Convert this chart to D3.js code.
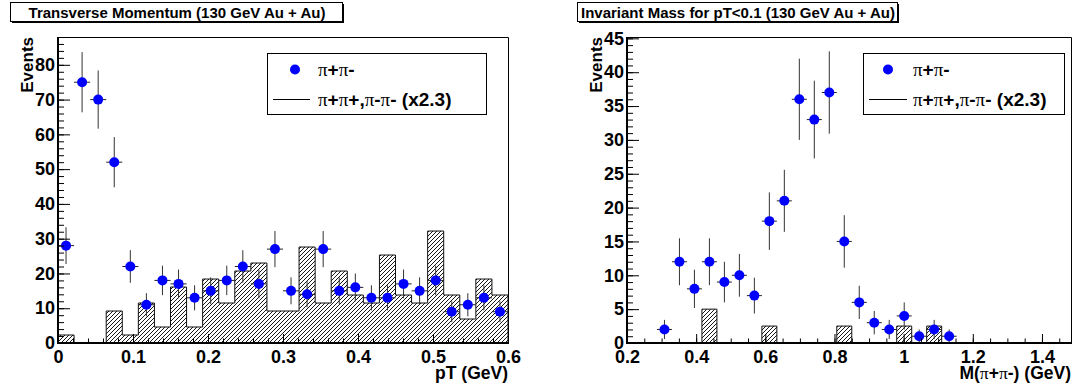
<!DOCTYPE html>
<html>
<head>
<meta charset="utf-8">
<script src="https://cdn.jsdelivr.net/npm/d3@7"></script>
<style>
  body { margin: 0; background: #fff; }
  svg { display: block; font-family: "Liberation Sans", Arial, sans-serif; }
</style>
</head>
<body>
<div id="chart"></div>
<script>
// ---- transverse momentum: 28 bins from 0 to 0.6 GeV
const ptStart = 0;
const ptBinWidth = 0.6 / 28;
const ptPairs = [28, 75, 70, 52, 22, 11, 18, 17, 13, 15, 18, 22, 17, 27,
                 15, 14, 27, 15, 16, 13, 13, 17, 15, 18, 9, 11, 13, 9];
const ptLikeSign = [2.3, 0, 0, 9.2, 2.3, 11.5, 4.6, 16.1, 4.6, 18.4, 11.5, 20.7, 23, 9.2,
                    9.2, 27.6, 11.5, 20.7, 13.8, 11.5, 25.3, 13.8, 11.5, 32.2, 13.8, 6.9, 18.4, 13.8];
const ptTicks = [0, 0.1, 0.2, 0.3, 0.4, 0.5, 0.6];
const ptTickLabels = ["0", "0.1", "0.2", "0.3", "0.4", "0.5", "0.6"];
const ptEventTicks = [0, 10, 20, 30, 40, 50, 60, 70, 80];

// ---- invariant mass: bins of 1.3/30 GeV starting at 0.2 GeV
const massStart = 0.2;
const massBinWidth = 1.3 / 30;
const massPairs = [0, 0, 2, 12, 8, 12, 9, 10, 7, 18, 21, 36, 33, 37, 15,
                   6, 3, 2, 4, 1, 2, 1, 0, 0, 0, 0, 0, 0, 0, 0];
const massLikeSign = [0, 0, 0, 0, 0, 5, 0, 0, 0, 2.5, 0, 0, 0, 0, 2.5,
                      0, 0, 0, 2.5, 0, 2.5, 0, 0, 0, 0, 0, 0, 0, 0, 0];
const massTicks = [0.2, 0.4, 0.6, 0.8, 1, 1.2, 1.4];
const massTickLabels = ["0.2", "0.4", "0.6", "0.8", "1", "1.2", "1.4"];
const massEventTicks = [0, 5, 10, 15, 20, 25, 30, 35, 40, 45];

const legendPairs = "π+π-";
const legendLike = "π+π+,π-π- (x2.3)";

const width = 1076, height = 387;

const svg = d3.select("#chart")
  .append("svg")
  .attr("width", width)
  .attr("height", height);

const defs = svg.append("defs");
defs.append("pattern")
  .attr("id", "hatch")
  .attr("patternUnits", "userSpaceOnUse")
  .attr("width", 4)
  .attr("height", 4)
  .append("path")
  .attr("d", "M-1,1 L1,-1 M0,4 L4,0 M3,5 L5,3")
  .attr("stroke", "#000")
  .attr("stroke-width", 0.9);

// text with pi drawn in a serif face, the rest bold sans
function richText(sel, str) {
  str.split("").forEach(ch => {
    const t = sel.append("tspan").text(ch);
    if (ch == "π") t.attr("font-family", "'Liberation Serif', serif").attr("font-weight", "normal");
  });
}

function drawPanel(p) {
  const x = d3.scaleLinear().domain(p.xDomain).range([p.left, p.right]);
  const y = d3.scaleLinear().domain(p.yDomain).range([p.bottom, p.top]);

  const g = svg.append("g");
  const clipId = "clip" + p.id;
  defs.append("clipPath").attr("id", clipId)
    .append("rect")
    .attr("x", p.left).attr("y", p.top)
    .attr("width", p.right - p.left).attr("height", p.bottom - p.top);

  // like-sign histogram: hatched step shape
  const pts = [[p.start, 0]];
  p.like.forEach((v, i) => {
    const lo = p.start + i * p.binW;
    pts.push([lo, v], [lo + p.binW, v]);
  });
  pts.push([p.start + p.like.length * p.binW, 0]);
  const line = d3.line().x(d => x(d[0])).y(d => y(d[1]));

  const hist = g.append("g").attr("clip-path", `url(#${clipId})`);
  hist.append("path")
    .attr("d", line(pts) + "Z")
    .attr("fill", "url(#hatch)")
    .attr("stroke", "none");
  hist.append("path")
    .attr("d", line(pts))
    .attr("fill", "none")
    .attr("stroke", "#111")
    .attr("stroke-width", 1);

  // unlike-sign pairs: points with sqrt(N) errors
  const data = p.pairs.map((n, i) => ({ c: p.start + (i + 0.5) * p.binW, n: n }))
    .filter(d => d.n > 0);
  const pg = g.append("g");
  pg.selectAll("line.ev")
    .data(data)
    .join("line")
    .attr("class", "ev")
    .attr("x1", d => x(d.c)).attr("x2", d => x(d.c))
    .attr("y1", d => y(d.n - Math.sqrt(d.n)))
    .attr("y2", d => y(d.n + Math.sqrt(d.n)))
    .attr("stroke", "#333");
  pg.selectAll("line.eh")
    .data(data)
    .join("line")
    .attr("class", "eh")
    .attr("x1", d => x(d.c - p.binW / 2)).attr("x2", d => x(d.c + p.binW / 2))
    .attr("y1", d => y(d.n)).attr("y2", d => y(d.n))
    .attr("stroke", "#222");
  pg.selectAll("circle")
    .data(data)
    .join("circle")
    .attr("cx", d => x(d.c))
    .attr("cy", d => y(d.n))
    .attr("r", 5)
    .attr("fill", "#0000ff");

  // axes (ticks drawn inside the frame)
  const xMajor = svg.append("g").attr("transform", `translate(0,${p.bottom})`)
    .call(d3.axisBottom(x).tickValues(p.xTicks).tickFormat((d, i) => p.xLabels[i])
      .tickSize(-9).tickPadding(7));
  const xMinor = svg.append("g").attr("transform", `translate(0,${p.bottom})`)
    .call(d3.axisBottom(x).tickValues(p.xMinor).tickFormat("").tickSize(-4.5));
  const yMajor = svg.append("g").attr("transform", `translate(${p.left},0)`)
    .call(d3.axisLeft(y).tickValues(p.yTicks).tickSize(-12).tickPadding(3));
  const yMinor = svg.append("g").attr("transform", `translate(${p.left},0)`)
    .call(d3.axisLeft(y).tickValues(p.yMinor).tickFormat("").tickSize(-6));
  [xMajor, xMinor, yMajor, yMinor].forEach(a => {
    a.select(".domain").remove();
    a.selectAll("text")
      .attr("font-family", "'Liberation Sans', Arial, sans-serif")
      .attr("font-size", 18)
      .attr("font-weight", "bold")
      .attr("fill", "#000");
  });

  // frame
  svg.append("path")
    .attr("d", `M${p.left},${p.top + 0.5} H${p.right + 0.5} V${p.bottom}`)
    .attr("fill", "none").attr("stroke", "#000").attr("stroke-width", 1);
  svg.append("path")
    .attr("d", `M${p.left},${p.top} V${p.bottom} H${p.right + 1}`)
    .attr("fill", "none").attr("stroke", "#000").attr("stroke-width", 2);

  // axis titles
  svg.append("text")
    .attr("transform", `translate(${p.left - 25},${p.top}) rotate(-90)`)
    .attr("text-anchor", "end")
    .attr("font-size", 17).attr("font-weight", "bold")
    .text("Events");
  const xt = svg.append("text")
    .attr("x", p.right).attr("y", 379)
    .attr("text-anchor", "end")
    .attr("font-size", 17.5).attr("font-weight", "bold");
  richText(xt, p.xTitle);

  // title box with shadow
  svg.append("rect")
    .attr("x", p.titleX0 + 2).attr("y", 4)
    .attr("width", p.titleX1 - p.titleX0).attr("height", 19)
    .attr("fill", "#000");
  svg.append("rect")
    .attr("x", p.titleX0 + 0.5).attr("y", 2.5)
    .attr("width", p.titleX1 - p.titleX0).attr("height", 19)
    .attr("fill", "#fff").attr("stroke", "#000");
  svg.append("text")
    .attr("x", (p.titleX0 + p.titleX1) / 2 + 1).attr("y", 18)
    .attr("text-anchor", "middle")
    .attr("font-size", 15).attr("font-weight", "bold")
    .text(p.title);

  // legend
  const lg = svg.append("g").attr("transform", `translate(${p.legX},53)`);
  lg.append("rect")
    .attr("x", 0.5).attr("y", 0.5)
    .attr("width", p.legW).attr("height", 61)
    .attr("fill", "#fff").attr("stroke", "#000");
  lg.append("circle")
    .attr("cx", p.legDot).attr("cy", 16.5).attr("r", 5).attr("fill", "#0000ff");
  lg.append("line")
    .attr("x1", p.legLine0).attr("x2", p.legLine1)
    .attr("y1", 46.5).attr("y2", 46.5)
    .attr("stroke", "#000");
  const t1 = lg.append("text").attr("x", p.legText).attr("y", 22.5)
    .attr("font-size", 19).attr("font-weight", "bold");
  richText(t1, legendPairs);
  const t2 = lg.append("text").attr("x", p.legText).attr("y", 52.5)
    .attr("font-size", 19).attr("font-weight", "bold");
  richText(t2, legendLike);
}

drawPanel({
  id: "pt",
  left: 58, right: 508, top: 37, bottom: 343,
  xDomain: [0, 0.6], yDomain: [0, 88],
  start: ptStart, binW: ptBinWidth,
  pairs: ptPairs, like: ptLikeSign,
  xTicks: ptTicks, xLabels: ptTickLabels, xMinor: d3.range(0, 0.6001, 0.02),
  yTicks: ptEventTicks, yMinor: d3.range(0, 88, 2),
  xTitle: "pT (GeV)",
  title: "Transverse Momentum (130 GeV Au + Au)",
  titleX0: 10, titleX1: 342,
  legX: 267, legW: 219, legDot: 28, legLine0: 6, legLine1: 43, legText: 51
});

drawPanel({
  id: "mass",
  left: 627, right: 1071, top: 37, bottom: 343,
  xDomain: [0.2, 1.484], yDomain: [0, 45.2],
  start: massStart, binW: massBinWidth,
  pairs: massPairs, like: massLikeSign,
  xTicks: massTicks, xLabels: massTickLabels, xMinor: d3.range(0.2, 1.48, 0.05),
  yTicks: massEventTicks, yMinor: d3.range(0, 45.1, 1),
  xTitle: "M(π+π-) (GeV)",
  title: "Invariant Mass for pT<0.1 (130 GeV Au + Au)",
  titleX0: 577, titleX1: 897,
  legX: 863, legW: 201, legDot: 25, legLine0: 6, legLine1: 44, legText: 50
});
</script>
</body>
</html>
